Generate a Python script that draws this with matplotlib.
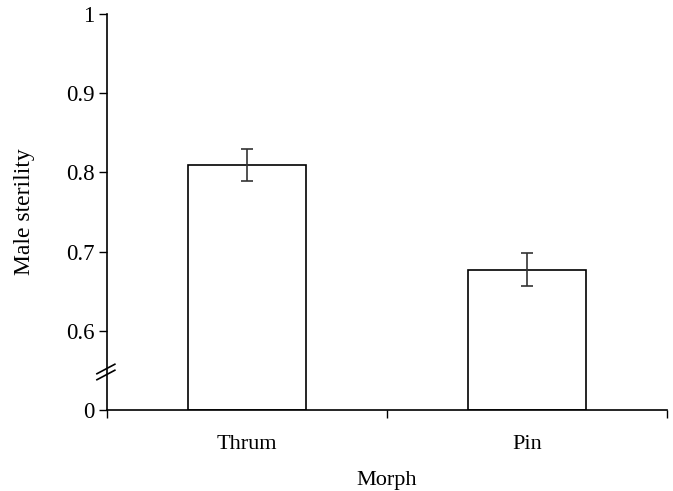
import matplotlib.pyplot as plt

# datos
morfos = ['Thrum', 'Pin']
esterilidad = [0.809, 0.677]
error = [0.020, 0.021]

# el eje esta cortado: 0 se dibuja donde iria 0.5
base = 0.5
yticks = [0.5, 0.6, 0.7, 0.8, 0.9, 1.0]
yticklabels = ['0', '0.6', '0.7', '0.8', '0.9', '1']

plt.rcParams['font.family'] = ['Liberation Serif', 'DejaVu Serif']
fig = plt.figure(figsize=(6.73, 4.91), dpi=100)
ax = fig.add_axes([0.159, 0.165, 0.832, 0.8065])

pos = [0.5, 1.5]
alturas = [v - base for v in esterilidad]
ax.bar(pos, alturas, bottom=base, width=0.42, color='white',
       edgecolor='black', linewidth=1.2, zorder=2)
ax.errorbar(pos, esterilidad, yerr=error, fmt='none', ecolor='#333333',
            elinewidth=1.2, capsize=4, capthick=1.2, zorder=3)

ax.set_xlim(0, 2)
ax.set_ylim(base, 1.0)
ax.set_yticks(yticks)
ax.set_yticklabels(yticklabels, fontsize=16.5)
ax.set_xticks([0, 1, 2])
ax.set_xticklabels([])
ax.set_xticks(pos, minor=True)
ax.set_xticklabels(morfos, minor=True, fontsize=16)
ax.tick_params(axis='x', which='minor', length=0, pad=18)
ax.tick_params(axis='x', which='major', direction='out', length=6, width=1)
ax.tick_params(axis='y', direction='out', length=6, width=1, pad=3)

for s in ['top', 'right']:
    ax.spines[s].set_visible(False)
ax.spines['left'].set_linewidth(1.2)
ax.spines['bottom'].set_linewidth(1.2)

ax.set_xlabel('Morph', fontsize=16, labelpad=12)
ax.set_ylabel('Male sterility', fontsize=17, labelpad=22)

# marcas de corte en el eje y
for dy in [-3, 3]:
    y0 = (410 - 372 - dy) / 396
    ax.plot([-0.018, 0.014], [y0 - 0.012, y0 + 0.012], transform=ax.transAxes,
            color='black', lw=1.2, clip_on=False)

plt.savefig('out.png', dpi=100)
